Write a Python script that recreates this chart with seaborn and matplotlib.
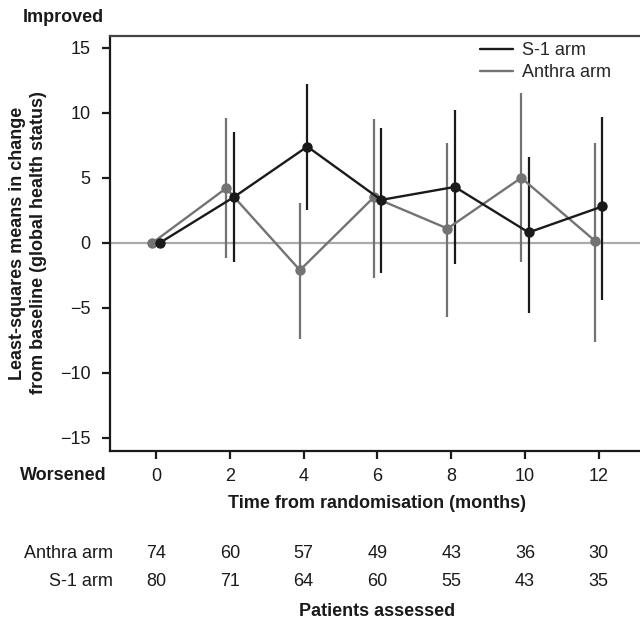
import numpy as np
import pandas as pd
import matplotlib
matplotlib.use("Agg")
import matplotlib.pyplot as plt
import matplotlib.transforms as mtransforms
import seaborn as sns

# ---- data ----
months = [0, 2, 4, 6, 8, 10, 12]
s1_mean = [0.0, 3.5, 7.4, 3.3, 4.3, 0.8, 2.8]
s1_low = [np.nan, -1.5, 2.5, -2.3, -1.6, -5.4, -4.4]
s1_high = [np.nan, 8.5, 12.2, 8.8, 10.2, 6.6, 9.7]
anthra_mean = [0.0, 4.2, -2.1, 3.5, 1.1, 5.0, 0.15]
anthra_low = [np.nan, -1.2, -7.4, -2.7, -5.7, -1.5, -7.6]
anthra_high = [np.nan, 9.6, 3.1, 9.5, 7.7, 11.5, 7.7]
n_anthra = [74, 60, 57, 49, 43, 36, 30]
n_s1 = [80, 71, 64, 60, 55, 43, 35]
arms = ["Anthra arm", "S-1 arm"]
yticks = [-15, -10, -5, 0, 5, 10, 15]

# ---- style ----
sns.set_style("ticks")
plt.rcParams["font.family"] = ["Liberation Sans", "DejaVu Sans"]
FS = 13
colors = {"S-1 arm": "#1a1a1a", "Anthra arm": "#737373"}
dodge = {"Anthra arm": -0.1, "S-1 arm": 0.1}

df = pd.concat([
    pd.DataFrame({"month": months, "mean": anthra_mean, "low": anthra_low,
                  "high": anthra_high, "arm": "Anthra arm"}),
    pd.DataFrame({"month": months, "mean": s1_mean, "low": s1_low,
                  "high": s1_high, "arm": "S-1 arm"}),
], ignore_index=True)
df["x"] = df["month"] + df["arm"].map(dodge)

fig = plt.figure(figsize=(6.4, 6.23), dpi=100)
W, H = 640, 623
ax = fig.add_axes([110 / W, 1 - 451 / H, 1 - 110 / W, (451 - 36) / H])

ax.axhline(0, color="#aaaaaa", lw=1.6, zorder=1)

for arm in arms:
    d = df[df["arm"] == arm]
    ax.vlines(d["x"], d["low"], d["high"], color=colors[arm], lw=1.6,
              zorder=2, capstyle="butt")

sns.lineplot(data=df, x="x", y="mean", hue="arm", hue_order=arms,
             palette=colors, marker="o", markersize=7.5, markeredgewidth=0,
             linewidth=1.7, estimator=None, sort=False, ax=ax, zorder=3,
             legend=False)

ax.set_xlim(-1.25, 13.12)
ax.set_ylim(-16, 15.9)
ax.set_xticks(months)
ax.set_yticks(yticks)
ax.set_xlabel("")
ax.set_ylabel("")
ax.tick_params(axis="both", direction="out", length=6, width=1.6,
               color="#1a1a1a", labelsize=FS, labelcolor="#1a1a1a")
ax.tick_params(axis="y", pad=8)
ax.tick_params(axis="x", pad=6)
for s in ["left", "bottom"]:
    ax.spines[s].set_linewidth(1.6)
    ax.spines[s].set_color("#1a1a1a")
ax.spines["top"].set_visible(True)
ax.spines["top"].set_linewidth(1.6)
ax.spines["top"].set_color("#444444")
ax.spines["right"].set_visible(False)

# legend
from matplotlib.lines import Line2D
handles = [Line2D([], [], color=colors["S-1 arm"], lw=1.7),
           Line2D([], [], color=colors["Anthra arm"], lw=1.7)]
fig.legend(handles, ["S-1 arm", "Anthra arm"], loc="upper left",
           bbox_to_anchor=(480 / W, 1 - 42 / H), frameon=False,
           fontsize=FS, handlelength=1.8, handletextpad=0.5,
           labelspacing=0.3, borderpad=0, borderaxespad=0)

# texts
fig.text(23 / W, 1 - 17 / H, "Improved", fontsize=FS, fontweight="bold",
         ha="left", va="center", color="#1a1a1a")
fig.text(107 / W, 1 - 476 / H, "Worsened", fontsize=FS, fontweight="bold",
         ha="right", va="center", color="#1a1a1a")
fig.text(28 / W, 1 - 243 / H,
         "Least-squares means in change\nfrom baseline (global health status)",
         fontsize=FS, fontweight="bold", rotation=90, ha="center",
         va="center", color="#1a1a1a", linespacing=1.25)

trans = mtransforms.blended_transform_factory(ax.transData, fig.transFigure)
ax.text(6, 1 - 503 / H, "Time from randomisation (months)", transform=trans,
        fontsize=FS, fontweight="bold", ha="center", va="center",
        color="#1a1a1a")
ax.text(6, 1 - 612 / H, "Patients assessed", transform=trans,
        fontsize=FS, fontweight="bold", ha="center", va="center",
        color="#1a1a1a")

rows = [("Anthra arm", n_anthra, 554), ("S-1 arm", n_s1, 581)]
for label, counts, ypx in rows:
    fig.text(113 / W, 1 - ypx / H, label, fontsize=FS, ha="right",
             va="center", color="#1a1a1a")
    for m, c in zip(months, counts):
        ax.text(m, 1 - ypx / H, str(c), transform=trans, fontsize=FS,
                ha="center", va="center", color="#1a1a1a")

fig.savefig("out.png", dpi=100)
